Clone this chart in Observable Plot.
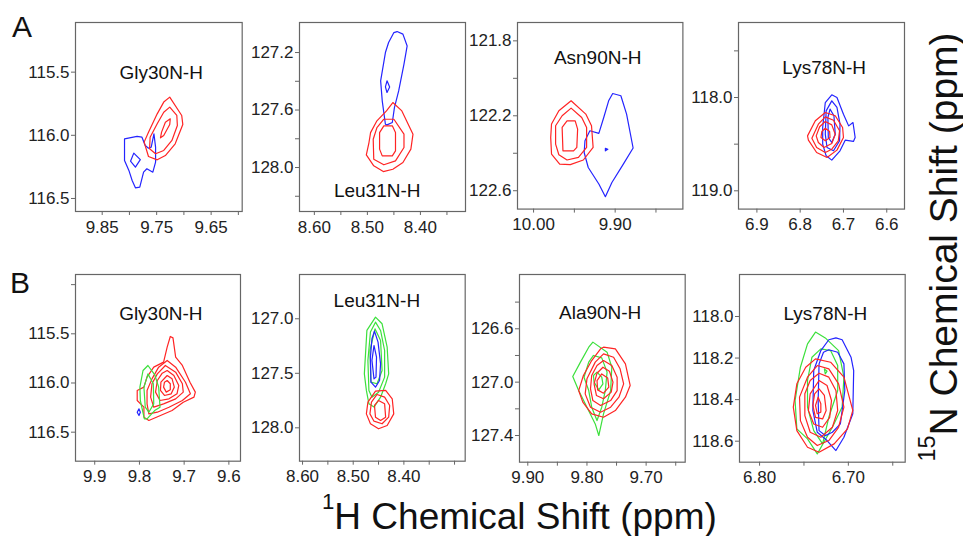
<!DOCTYPE html>
<html><head><meta charset="utf-8">
<script src="https://cdn.jsdelivr.net/npm/d3@7"></script>
<script src="https://cdn.jsdelivr.net/npm/@observablehq/plot@0.6"></script>
<style>
body{margin:0;background:#fff;}
#wrap{position:relative;width:963px;height:536px;overflow:hidden;font-family:"Liberation Sans",Arial,sans-serif;color:#111;background:#fff;}
.letter{position:absolute;font-size:30px;line-height:30px;}
.axt{position:absolute;font-size:37px;line-height:37px;white-space:nowrap;}
.axt sup{font-size:0.6em;vertical-align:0.9em;line-height:0;}
</style></head><body><div id="wrap"></div>
<script>
// ---------- text ----------
const titles = ["Gly30N-H","Leu31N-H","Asn90N-H","Lys78N-H","Gly30N-H","Leu31N-H","Ala90N-H","Lys78N-H"];
const panelLetters = ["A","B"];

// ---------- tick values and labelled ticks ----------
const xTicksA1 = [9.85,9.80,9.75,9.70,9.65,9.60], xLabA1 = [9.85,9.75,9.65];
const yTicksA1 = [115.5,116.0,116.5], yLabA1 = [115.5,116.0,116.5];
const xTicksA2 = [8.60,8.55,8.50,8.45,8.40,8.35], xLabA2 = [8.60,8.50,8.40];
const yTicksA2 = [127.2,127.4,127.6,127.8,128.0,128.2], yLabA2 = [127.2,127.6,128.0];
const xTicksA3 = [10.00,9.95,9.90,9.85], xLabA3 = [10.00,9.90];
const yTicksA3 = [121.8,122.0,122.2,122.4,122.6], yLabA3 = [121.8,122.2,122.6];
const xTicksA4 = [6.9,6.8,6.7,6.6], xLabA4 = [6.9,6.8,6.7,6.6];
const yTicksA4 = [117.5,118.0,118.5,119.0], yLabA4 = [118.0,119.0];
const xTicksB1 = [9.9,9.8,9.7,9.6], xLabB1 = [9.9,9.8,9.7,9.6];
const yTicksB1 = [115.0,115.5,116.0,116.5], yLabB1 = [115.5,116.0,116.5];
const xTicksB2 = [8.60,8.55,8.50,8.45,8.40,8.35,8.30], xLabB2 = [8.60,8.50,8.40];
const yTicksB2 = [127.0,127.5,128.0], yLabB2 = [127.0,127.5,128.0];
const xTicksB3 = [9.90,9.85,9.80,9.75,9.70,9.65], xLabB3 = [9.90,9.80,9.70];
const yTicksB3 = [126.4,126.6,126.8,127.0,127.2,127.4], yLabB3 = [126.6,127.0,127.4];
const xTicksB4 = [6.80,6.75,6.70,6.65], xLabB4 = [6.80,6.70];
const yTicksB4 = [118.0,118.2,118.4,118.6], yLabB4 = [118.0,118.2,118.4,118.6];

// ---------- contour polygons: [1H ppm, 15N ppm] ----------
const gly30A_red = [
 [[9.726,115.698],[9.704,115.843],[9.702,115.914],[9.716,116.067],[9.734,116.160],[9.749,116.194],[9.765,116.168],[9.773,116.054],[9.765,115.975],[9.749,115.830],[9.737,115.737]],
 [[9.726,115.777],[9.713,115.843],[9.712,115.922],[9.722,116.041],[9.737,116.120],[9.752,116.146],[9.763,116.107],[9.762,116.015],[9.749,115.909],[9.737,115.817]],
 [[9.725,115.869],[9.726,115.914],[9.737,116.001],[9.743,116.020],[9.741,115.975],[9.734,115.896]]
];
const gly30A_blue = [
 [[9.809,116.028],[9.786,116.009],[9.777,116.015],[9.771,116.080],[9.765,116.102],[9.760,116.094],[9.755,115.988],[9.752,116.094],[9.752,116.212],[9.757,116.292],[9.768,116.265],[9.774,116.292],[9.781,116.410],[9.789,116.416],[9.795,116.358],[9.801,116.278],[9.809,116.199],[9.809,116.094]],
 [[9.792,116.141],[9.780,116.193],[9.789,116.252],[9.798,116.205]]
];
const leu31A_blue = [
 [[8.444,127.054],[8.433,127.072],[8.425,127.154],[8.431,127.281],[8.441,127.467],[8.449,127.583],[8.453,127.687],[8.463,127.703],[8.466,127.699],[8.472,127.536],[8.475,127.397],[8.466,127.200],[8.460,127.130],[8.450,127.061]],
 [[8.463,127.397],[8.458,127.439],[8.463,127.478],[8.466,127.439]]
];
const leu31A_red = [
 [[8.452,127.548],[8.435,127.606],[8.414,127.768],[8.418,127.872],[8.433,127.965],[8.452,128.012],[8.470,128.028],[8.488,127.988],[8.502,127.912],[8.497,127.826],[8.494,127.757],[8.482,127.675],[8.464,127.606]],
 [[8.469,127.664],[8.450,127.664],[8.431,127.768],[8.431,127.861],[8.447,127.954],[8.469,127.981],[8.488,127.942],[8.489,127.803],[8.482,127.722]],
 [[8.469,127.710],[8.453,127.710],[8.447,127.757],[8.447,127.884],[8.453,127.919],[8.472,127.919],[8.477,127.872],[8.477,127.757]]
];
const asn90A_red = [
 [[9.954,122.120],[9.936,122.191],[9.929,122.253],[9.927,122.369],[9.939,122.436],[9.955,122.461],[9.968,122.458],[9.978,122.404],[9.979,122.316],[9.978,122.244],[9.969,122.173]],
 [[9.954,122.159],[9.941,122.209],[9.935,122.262],[9.935,122.369],[9.945,122.422],[9.959,122.436],[9.969,122.408],[9.973,122.351],[9.973,122.253],[9.965,122.200]],
 [[9.959,122.227],[9.949,122.227],[9.946,122.271],[9.947,122.369],[9.951,122.387],[9.964,122.387],[9.965,122.262]]
];
const asn90A_blue = [
 [[9.903,122.081],[9.893,122.093],[9.886,122.191],[9.878,122.372],[9.890,122.458],[9.904,122.556],[9.912,122.632],[9.920,122.564],[9.933,122.476],[9.938,122.396],[9.937,122.333],[9.931,122.280],[9.920,122.294],[9.914,122.209],[9.908,122.120]],
 [[9.912,122.374],[9.909,122.379],[9.912,122.387]]
];
const lys78A_blue = [
 [[6.727,117.971],[6.715,118.000],[6.700,118.179],[6.688,118.304],[6.678,118.268],[6.673,118.429],[6.677,118.471],[6.696,118.457],[6.708,118.571],[6.727,118.671],[6.740,118.625],[6.748,118.500],[6.748,118.321],[6.742,118.054]],
 [[6.727,118.036],[6.715,118.107],[6.708,118.286],[6.709,118.464],[6.723,118.571],[6.738,118.536],[6.742,118.393],[6.740,118.143]],
 [[6.731,118.125],[6.722,118.196],[6.719,118.393],[6.727,118.482],[6.735,118.429],[6.736,118.214]]
];
const lys78A_red = [
 [[6.742,118.161],[6.719,118.196],[6.702,118.321],[6.700,118.429],[6.715,118.564],[6.738,118.643],[6.762,118.589],[6.781,118.457],[6.783,118.411],[6.765,118.250]],
 [[6.742,118.207],[6.723,118.243],[6.709,118.357],[6.712,118.464],[6.727,118.554],[6.742,118.589],[6.762,118.536],[6.773,118.436],[6.758,118.286]],
 [[6.742,118.257],[6.727,118.293],[6.719,118.393],[6.727,118.493],[6.745,118.536],[6.758,118.482],[6.763,118.411],[6.755,118.314]],
 [[6.742,118.329],[6.732,118.364],[6.731,118.429],[6.742,118.464],[6.752,118.429],[6.750,118.364]]
];
const gly30B_red = [
 [[9.731,115.527],[9.725,115.541],[9.719,115.737],[9.704,115.822],[9.687,115.992],[9.675,116.093],[9.678,116.144],[9.702,116.195],[9.727,116.280],[9.753,116.331],[9.779,116.381],[9.790,116.347],[9.790,116.246],[9.805,116.178],[9.805,116.076],[9.790,116.042],[9.783,115.941],[9.768,115.839],[9.746,115.788],[9.738,115.636]],
 [[9.738,115.771],[9.719,115.839],[9.697,115.992],[9.686,116.110],[9.704,116.178],[9.734,116.246],[9.760,116.297],[9.779,116.314],[9.783,116.212],[9.783,116.076],[9.772,115.958],[9.757,115.839]],
 [[9.742,115.822],[9.719,115.890],[9.704,116.008],[9.702,116.093],[9.719,116.161],[9.746,116.212],[9.768,116.246],[9.775,116.144],[9.772,116.008],[9.760,115.907]],
 [[9.738,115.873],[9.723,115.924],[9.712,116.025],[9.716,116.110],[9.734,116.161],[9.754,116.178],[9.764,116.093],[9.760,115.975],[9.749,115.900]],
 [[9.738,115.924],[9.727,115.958],[9.722,116.042],[9.729,116.110],[9.744,116.127],[9.753,116.076],[9.752,115.992]],
 [[9.738,115.975],[9.731,116.008],[9.731,116.069],[9.740,116.093],[9.746,116.042],[9.744,115.992]]
];
const gly30B_green = [
 [[9.781,115.822],[9.766,115.914],[9.757,116.042],[9.754,116.246],[9.766,116.280],[9.783,116.364],[9.789,116.364],[9.798,116.178],[9.799,116.042],[9.792,115.873]],
 [[9.781,115.907],[9.769,116.008],[9.768,116.212],[9.779,116.297],[9.787,116.246],[9.790,116.042]]
];
const gly30B_blue = [
 [[9.801,116.263],[9.798,116.297],[9.801,116.331],[9.805,116.297]]
];
const leu31B_green = [
 [[8.456,126.985],[8.443,127.046],[8.433,127.260],[8.430,127.505],[8.436,127.596],[8.446,127.719],[8.459,127.810],[8.469,127.780],[8.474,127.657],[8.478,127.505],[8.473,127.107]],
 [[8.456,127.031],[8.446,127.107],[8.438,127.291],[8.438,127.535],[8.450,127.673],[8.463,127.719],[8.469,127.657],[8.471,127.382],[8.466,127.122]],
 [[8.457,127.092],[8.446,127.199],[8.443,127.474],[8.453,127.596],[8.465,127.581],[8.467,127.291]]
];
const leu31B_blue = [
 [[8.458,127.113],[8.451,127.214],[8.446,127.413],[8.448,127.566],[8.456,127.627],[8.465,127.581],[8.466,127.352],[8.463,127.183]],
 [[8.459,127.245],[8.454,127.352],[8.455,127.535],[8.459,127.550],[8.463,127.382]]
];
const leu31B_red = [
 [[8.456,127.664],[8.436,127.657],[8.423,127.734],[8.420,127.872],[8.433,127.979],[8.450,128.009],[8.466,127.963],[8.474,127.872],[8.471,127.765]],
 [[8.453,127.694],[8.438,127.719],[8.428,127.795],[8.430,127.902],[8.443,127.963],[8.459,127.939],[8.467,127.872],[8.464,127.765]],
 [[8.450,127.749],[8.438,127.780],[8.436,127.902],[8.446,127.933],[8.456,127.902],[8.458,127.795]]
];
const ala90B_green = [
 [[9.790,126.700],[9.766,126.775],[9.758,126.888],[9.760,127.063],[9.772,127.238],[9.780,127.400],[9.786,127.313],[9.800,127.188],[9.814,127.063],[9.824,126.958],[9.811,126.850],[9.797,126.738]],
 [[9.789,126.800],[9.775,126.818],[9.766,126.925],[9.769,127.063],[9.775,127.188],[9.783,127.288],[9.792,127.188],[9.797,127.063],[9.805,126.963],[9.797,126.850]],
 [[9.783,126.925],[9.775,126.963],[9.773,127.013],[9.780,127.058],[9.788,127.000],[9.789,126.950]]
];
const ala90B_red = [
 [[9.772,126.738],[9.752,126.750],[9.735,126.863],[9.727,127.025],[9.735,127.113],[9.752,127.213],[9.772,127.263],[9.792,127.238],[9.807,127.150],[9.814,127.063],[9.806,126.950],[9.792,126.838],[9.777,126.750]],
 [[9.772,126.788],[9.755,126.813],[9.744,126.900],[9.738,127.013],[9.746,127.113],[9.760,127.188],[9.777,127.225],[9.794,127.188],[9.803,127.088],[9.800,126.975],[9.786,126.850]],
 [[9.772,126.838],[9.758,126.875],[9.749,126.963],[9.749,127.063],[9.760,127.138],[9.777,127.175],[9.790,127.138],[9.794,127.050],[9.792,126.950],[9.783,126.875]],
 [[9.773,126.888],[9.762,126.918],[9.756,127.000],[9.759,127.075],[9.772,127.125],[9.784,127.100],[9.788,127.013],[9.783,126.933]],
 [[9.775,126.938],[9.765,126.968],[9.763,127.038],[9.772,127.083],[9.782,127.058],[9.783,126.988]]
];
const lys78B_green = [
 [[6.737,118.075],[6.726,118.103],[6.711,118.164],[6.705,118.292],[6.707,118.436],[6.718,118.533],[6.735,118.661],[6.746,118.589],[6.758,118.541],[6.760,118.404],[6.754,118.244],[6.746,118.132]],
 [[6.731,118.156],[6.720,118.164],[6.712,118.236],[6.712,118.356],[6.722,118.485],[6.729,118.613],[6.739,118.549],[6.746,118.436],[6.746,118.308],[6.741,118.196]],
 [[6.727,118.252],[6.724,118.263],[6.726,118.276]]
];
const lys78B_blue = [
 [[6.714,118.103],[6.707,118.112],[6.697,118.196],[6.694,118.260],[6.695,118.468],[6.705,118.581],[6.714,118.645],[6.724,118.597],[6.735,118.557],[6.740,118.452],[6.739,118.260],[6.731,118.164],[6.722,118.112]],
 [[6.722,118.160],[6.712,118.172],[6.705,118.228],[6.704,118.356],[6.709,118.517],[6.718,118.557],[6.726,118.573],[6.733,118.549],[6.734,118.404],[6.733,118.228],[6.728,118.172]]
];
const lys78B_red = [
 [[6.737,118.204],[6.720,118.220],[6.705,118.292],[6.695,118.452],[6.701,118.541],[6.716,118.613],[6.733,118.653],[6.746,118.629],[6.758,118.549],[6.762,118.436],[6.758,118.324],[6.748,118.244]],
 [[6.735,118.236],[6.722,118.252],[6.711,118.324],[6.705,118.436],[6.711,118.533],[6.722,118.597],[6.735,118.621],[6.746,118.581],[6.754,118.501],[6.755,118.388],[6.746,118.292]],
 [[6.733,118.273],[6.722,118.292],[6.714,118.356],[6.712,118.452],[6.718,118.533],[6.731,118.581],[6.743,118.557],[6.749,118.477],[6.749,118.372],[6.743,118.308]],
 [[6.733,118.308],[6.724,118.332],[6.719,118.404],[6.721,118.485],[6.729,118.533],[6.739,118.517],[6.745,118.452],[6.743,118.372]],
 [[6.733,118.348],[6.727,118.380],[6.725,118.452],[6.729,118.493],[6.737,118.485],[6.740,118.428],[6.738,118.372]],
 [[6.734,118.388],[6.731,118.420],[6.731,118.460],[6.735,118.468],[6.737,118.428]]
];

// ---------- styles ----------
const RED = "#ff2424", BLUE = "#2424ff", GREEN = "#3ce03c";

// ---------- layout (frame position in page px, scale domains) ----------
const layout = [
 {left:75,    top:22,   w:166.7, h:189,   xd:[9.899,9.593],   yd:[115.107,116.603], xt:xTicksA1, xl:xLabA1, xdec:2, yt:yTicksA1, yl:yLabA1, anchor:"top",    dy:50,    dx:2.4, series:[[BLUE,gly30A_blue],[RED,gly30A_red]]},
 {left:299,   top:21.7, w:166,   h:189,   xd:[8.628,8.315],   yd:[126.991,128.306], xt:xTicksA2, xl:xLabA2, xdec:2, yt:yTicksA2, yl:yLabA2, anchor:"bottom", dy:-20.7, dx:-5.3, series:[[BLUE,leu31A_blue],[RED,leu31A_red]]},
 {left:517.3, top:21.7, w:165.4, h:186.6, xd:[10.0197,9.817], yd:[121.702,122.698], xt:xTicksA3, xl:xLabA3, xdec:2, yt:yTicksA3, yl:yLabA3, anchor:"top",    dy:35.6,  dx:-2.5, series:[[BLUE,asn90A_blue],[RED,asn90A_red]]},
 {left:738.3, top:21.7, w:166,   h:186.6, xd:[6.9425,6.559],  yd:[117.196,119.196], xt:xTicksA4, xl:xLabA4, xdec:1, yt:yTicksA4, yl:yLabA4, anchor:"top",    dy:45,    dx:2.7, series:[[BLUE,lys78A_blue],[RED,lys78A_red]]},
 {left:75,    top:274,  w:165,   h:186.7, xd:[9.943,9.574],   yd:[114.897,116.795], xt:xTicksB1, xl:xLabB1, xdec:1, yt:yTicksB1, yl:yLabB1, anchor:"top",    dy:39.3,  dx:2.8, series:[[RED,gly30B_red],[GREEN,gly30B_green],[BLUE,gly30B_blue]]},
 {left:299.3, top:274,  w:165.7, h:186.7, xd:[8.606,8.279],   yd:[126.594,128.306], xt:xTicksB2, xl:xLabB2, xdec:2, yt:yTicksB2, yl:yLabB2, anchor:"top",    dy:26,    dx:-5.5, series:[[GREEN,leu31B_green],[BLUE,leu31B_blue],[RED,leu31B_red]]},
 {left:519.3, top:274,  w:165.7, h:187.7, xd:[9.914,9.634],   yd:[126.193,127.600], xt:xTicksB3, xl:xLabB3, xdec:2, yt:yTicksB3, yl:yLabB3, anchor:"top",    dy:38.7,  dx:-2.2, series:[[GREEN,ala90B_green],[RED,ala90B_red]]},
 {left:739.3, top:274,  w:165.7, h:187.7, xd:[6.8226,6.636],  yd:[117.798,118.701], xt:xTicksB4, xl:xLabB4, xdec:2, yt:yTicksB4, yl:yLabB4, anchor:"top",    dy:39.3,  dx:3,   series:[[GREEN,lys78B_green],[BLUE,lys78B_blue],[RED,lys78B_red]]}
];

const ML = 58, MT = 2, MR = 4, MB = 32;
const wrap = document.getElementById("wrap");
const isIn = (d, arr) => arr.some(v => Math.abs(v - d) < 1e-9);

layout.forEach((p, i) => {
  const lineMarks = p.series.map(([color, contours]) => {
    const rows = contours.flatMap((c, k) => c.map(([x, y]) => ({x, y, k})));
    return Plot.line(rows, {x: "x", y: "y", z: "k", stroke: color, strokeWidth: 1.2, curve: "linear-closed"});
  });
  const svg = Plot.plot({
    width: ML + p.w + MR,
    height: MT + p.h + MB,
    marginLeft: ML, marginTop: MT, marginRight: MR, marginBottom: MB,
    style: {background: "none", fontFamily: "'Liberation Sans', Arial, sans-serif", fontSize: "17px", overflow: "visible"},
    x: {domain: p.xd, label: null},
    y: {domain: p.yd, reverse: true, label: null},
    marks: [
      ...lineMarks,
      Plot.frame({stroke: "#666", strokeWidth: 1.2}),
      Plot.axisX({ticks: p.xt, tickFormat: d => isIn(d, p.xl) ? d.toFixed(p.xdec) : "", tickSize: 4, tickPadding: 5, stroke: "#666", color: "#222", label: null}),
      Plot.axisY({ticks: p.yt, tickFormat: d => isIn(d, p.yl) ? d.toFixed(1) : "", tickSize: 4, tickPadding: 2, stroke: "#666", color: "#222", label: null}),
      Plot.text([titles[i]], {text: d => d, frameAnchor: p.anchor, dy: p.dy, dx: p.dx, fontSize: 19, fill: "#111", lineAnchor: "middle"})
    ]
  });
  svg.style.position = "absolute";
  svg.style.left = (p.left - ML) + "px";
  svg.style.top = (p.top - MT) + "px";
  wrap.appendChild(svg);
});

// panel letters
[[12, 12], [10, 268]].forEach(([x, y], i) => {
  const d = document.createElement("div");
  d.className = "letter";
  d.style.left = x + "px"; d.style.top = y + "px";
  d.textContent = panelLetters[i];
  wrap.appendChild(d);
});

// axis titles
const xt = document.createElement("div");
xt.className = "axt";
xt.style.left = "322px"; xt.style.top = "498px";
xt.innerHTML = "<sup>1</sup>H Chemical Shift (ppm)";
wrap.appendChild(xt);

const yt = document.createElement("div");
yt.className = "axt";
yt.style.fontSize = "39px";
yt.style.lineHeight = "39px";
yt.style.left = "943px"; yt.style.top = "247px";
yt.style.transform = "translate(-50%,-50%) rotate(-90deg)";
yt.innerHTML = "<sup>15</sup>N Chemical Shift (ppm)";
wrap.appendChild(yt);
</script></body></html>
